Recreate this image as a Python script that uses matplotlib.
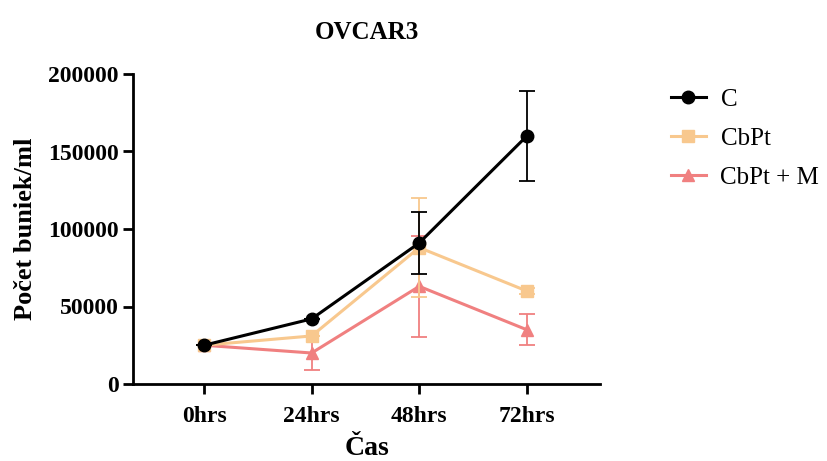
import numpy as np
import matplotlib
matplotlib.use("Agg")
import matplotlib.pyplot as plt
from matplotlib.lines import Line2D

plt.rcParams['font.family'] = ['Liberation Serif', 'DejaVu Serif']

times = ['0hrs', '24hrs', '48hrs', '72hrs']
c_mean = [25000, 42000, 91000, 160000]
c_err = [0, 0, 20000, 29000]
cbpt_mean = [25000, 31000, 88000, 60000]
cbpt_err = [0, 0, 32000, 2000]
cbptm_mean = [25000, 20000, 63000, 35000]
cbptm_err = [0, 11000, 32500, 10000]

names = ['C', 'CbPt', 'CbPt + M']
colors = ['black', '#F8C88E', '#F08080']
markers = ['o', 's', '^']

x = np.arange(len(times))

fig = plt.figure(figsize=(8.27, 4.61), dpi=100)
ax = fig.add_axes([133/827, 1 - 384/461, (600-133)/827, (384-74)/461])

series = [(c_mean, c_err), (cbpt_mean, cbpt_err), (cbptm_mean, cbptm_err)]
for i in [2, 1, 0]:
    m, e = series[i]
    ax.errorbar(x, m, yerr=e, color=colors[i], marker=markers[i],
                markersize=9 if i == 0 else 8, lw=2.2, capsize=6,
                elinewidth=1.3, capthick=1.3, zorder=4 - i)

ax.set_xlim(-0.66, 3.68)
ax.set_ylim(0, 200000)
ax.set_yticks([0, 50000, 100000, 150000, 200000])
ax.set_xticks(x)
ax.set_xticklabels(times)
for s in ['top', 'right']:
    ax.spines[s].set_visible(False)
for s in ['left', 'bottom']:
    ax.spines[s].set_linewidth(2)
ax.tick_params(width=2, length=7, labelsize=17)
ax.tick_params(axis='x', pad=9)
for lab in ax.get_xticklabels() + ax.get_yticklabels():
    lab.set_fontweight('bold')

ax.set_xlabel('Čas', fontsize=20, fontweight='bold', labelpad=6)
ax.set_ylabel('Počet buniek/ml', fontsize=19, fontweight='bold', labelpad=8)
ax.set_title('OVCAR3', fontsize=18, fontweight='bold', pad=25)

handles = [Line2D([], [], color=colors[i], marker=markers[i], lw=2.2,
                  markersize=9 if i == 0 else 8) for i in range(3)]
fig.legend(handles, names, loc='upper left', bbox_to_anchor=(648/827, 1 - 66/461),
           frameon=False, fontsize=18, handlelength=1.4, handletextpad=0.6,
           labelspacing=0.66)

fig.savefig('out.png', dpi=100)
